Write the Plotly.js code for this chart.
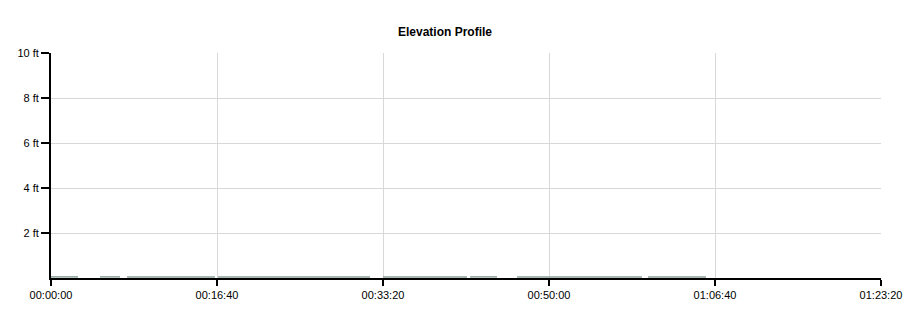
<!DOCTYPE html>
<html>
<head>
<meta charset="utf-8">
<script src="https://cdn.plot.ly/plotly-3.0.1.min.js"></script>
<style>
  html, body { margin: 0; padding: 0; background: #fff; }
  #chart { width: 918px; height: 318px; }
</style>
</head>
<body>
<div id="chart"></div>
<script>
// Elapsed time in seconds
const timeSeconds = [0, 80, 163, 229, 295, 360, 416, 437, 458, 700, 988, 997, 1006, 1450, 1922, 1961, 2000, 2250, 2506, 2515, 2524, 2600, 2687, 2747, 2807, 3200, 3560, 3578, 3596, 3780, 3946];
// Elevation in feet (null = gap in recording)
const elevationFt = [0.05, 0.05, 0.05, null, 0.05, 0.05, 0.05, null, 0.05, 0.05, 0.05, null, 0.05, 0.05, 0.05, null, 0.05, 0.05, 0.05, null, 0.05, 0.05, 0.05, null, 0.05, 0.05, 0.05, null, 0.05, 0.05, 0.05];

const xTickValues = [0, 1000, 2000, 3000, 4000, 5000];
const xTickLabels = ["00:00:00", "00:16:40", "00:33:20", "00:50:00", "01:06:40", "01:23:20"];
const yTickValues = [2, 4, 6, 8, 10];
const yTickLabels = ["2 ft", "4 ft", "6 ft", "8 ft", "10 ft"];

const fontFamily = "Liberation Sans, Arial, sans-serif";

Plotly.newPlot('chart', [{
  type: 'scatter',
  mode: 'lines',
  x: timeSeconds,
  y: elevationFt,
  connectgaps: false,
  line: { color: '#8aa19b', width: 1.5 },
  hoverinfo: 'skip'
}], {
  width: 918,
  height: 318,
  margin: { l: 51, r: 37, t: 53, b: 40, pad: 0 },
  paper_bgcolor: '#ffffff',
  plot_bgcolor: '#ffffff',
  showlegend: false,
  title: {
    text: '<b>Elevation Profile</b>',
    font: { family: fontFamily, size: 12, color: '#000' },
    x: 445 / 918, xref: 'container', xanchor: 'center',
    y: 1 - 32 / 318, yref: 'container', yanchor: 'middle'
  },
  xaxis: {
    range: [0, 5000],
    tickmode: 'array',
    tickvals: xTickValues,
    ticktext: xTickLabels,
    showgrid: true,
    gridcolor: '#d8d8d8',
    gridwidth: 1,
    zeroline: false,
    showline: true,
    linecolor: '#000',
    linewidth: 2,
    ticks: 'outside',
    ticklen: 6,
    tickwidth: 2,
    tickcolor: '#000',
    tickfont: { family: fontFamily, size: 11, color: '#000' },
    fixedrange: true
  },
  yaxis: {
    range: [0, 10],
    tickmode: 'array',
    tickvals: yTickValues,
    ticktext: yTickLabels,
    showgrid: true,
    gridcolor: '#d8d8d8',
    gridwidth: 1,
    zeroline: false,
    showline: true,
    linecolor: '#000',
    linewidth: 2,
    ticks: 'outside',
    ticklen: 8,
    tickwidth: 2,
    tickcolor: '#000',
    tickfont: { family: fontFamily, size: 11, color: '#000' },
    fixedrange: true
  }
}, { displayModeBar: false, staticPlot: true });
</script>
</body>
</html>
